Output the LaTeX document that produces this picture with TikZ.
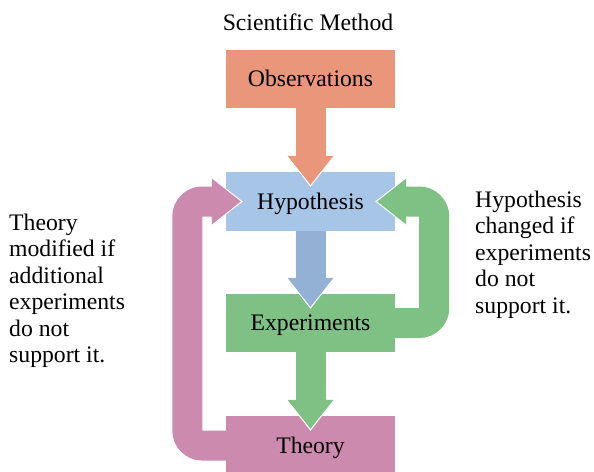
\documentclass[tikz,border=0pt]{standalone}
\usepackage{fontspec}
\setmainfont{Liberation Serif}
\usetikzlibrary{arrows.meta}

\definecolor{obscol}{RGB}{233,150,122}
\definecolor{hypcol}{RGB}{167,197,230}
\definecolor{hyparrow}{RGB}{146,177,212}
\definecolor{expcol}{RGB}{127,192,133}
\definecolor{thecol}{RGB}{204,139,174}

% fat arrow with a white rim round its head
\newcommand{\fatarrow}[2]{%
  \draw[white, line width=34pt, rounded corners=15pt, -{Triangle[length=33pt, width=51pt, line width=0pt]}] #2;
  \draw[#1, line width=30pt, rounded corners=15pt, shorten >=2pt, -{Triangle[length=29pt, width=46pt, line width=0pt]}] #2;
}

\begin{document}
\begin{tikzpicture}[x=1pt, y=-1pt, font=\fontsize{23.7}{26.5}\selectfont,
  box/.style={minimum width=169pt, minimum height=58pt, inner sep=0pt, text height=15.6pt, text depth=0pt},
  sidetext/.style={align=left, inner sep=0pt, anchor=north west}]

\useasboundingbox (0,0) rectangle (594,471);
\clip (0,0) rectangle (594,471);

% draw title
\node[anchor=base] (title) at (308,30) {Scientific Method};

% draw boxes
\node[box, fill=obscol] (obs) at (310.5,79) {Observations};
\node[box, fill=hypcol, minimum height=59pt] (hyp) at (310.5,201.5) {Hypothesis};
\node[box, fill=expcol] (exp) at (310.5,323) {Experiments};
\node[box, fill=thecol, minimum height=59pt] (theory) at (310.5,445.5) {Theory};

% draw straight arrows
\foreach \from/\to/\col in {obs/hyp/obscol, hyp/exp/hyparrow, exp/theory/expcol}
{
    \fatarrow{\col}{(\from.south) -- ([yshift=-15pt]\to.north)}
}

% draw loops back to hypothesis
\fatarrow{expcol}{(exp.east) -- ++(39,0) |- ([xshift=-20pt]hyp.east)}
\fatarrow{thecol}{(theory.west) -- ++(-38.5,0) |- ([xshift=17pt]hyp.west)}

% draw side notes
\node[sidetext] (leftnote) at (9,213.8) {Theory\\modified if\\additional\\experiments\\do not\\support it.};
\node[sidetext] (rightnote) at (475,190.8) {Hypothesis\\changed if\\experiments\\do not\\support it.};

\end{tikzpicture}
\end{document}
